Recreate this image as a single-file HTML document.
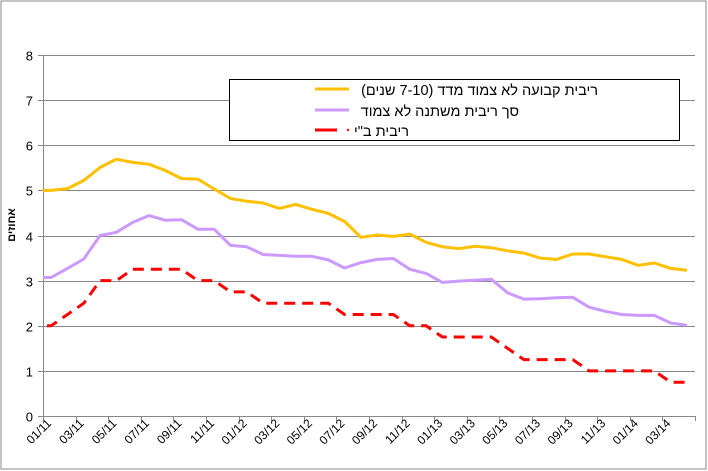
<!DOCTYPE html>
<html><head><meta charset="utf-8">
<style>
body{margin:0;background:#fff;}
svg{display:block;font-family:"Liberation Sans",Arial,sans-serif;}
</style></head>
<body>
<svg id="chart" width="708" height="471" viewBox="0 0 708 471">
<rect x="1" y="1" width="705" height="468" fill="#fff" stroke="#888" stroke-width="1"/>
<g id="grid"></g>
<g id="yaxis"></g>
<g id="xaxis"></g>
<text x="0" y="0" transform="translate(15 225) rotate(-90)" font-size="11" font-weight="bold" text-anchor="middle" font-family="'Liberation Sans','DejaVu Sans',sans-serif">אחוזים</text>
<g id="series"></g>
<g>
<rect x="229.5" y="79.5" width="450" height="61" fill="#fff" stroke="#000" stroke-width="1"/>
<line x1="315" y1="89" x2="349" y2="89" stroke="#FFC000" stroke-width="3"/>
<text x="598" y="95" font-size="14.5" text-anchor="start" direction="rtl" font-family="'Liberation Sans','DejaVu Sans',sans-serif">ריבית קבועה לא צמוד מדד (7-10 שנים)</text>
<line x1="315" y1="110" x2="349" y2="110" stroke="#CC99FF" stroke-width="3"/>
<text x="519" y="116" font-size="14.5" text-anchor="start" direction="rtl" font-family="'Liberation Sans','DejaVu Sans',sans-serif">סך ריבית משתנה לא צמוד</text>
<line x1="315" y1="130" x2="337" y2="130" stroke="#FF0000" stroke-width="3"/>
<circle cx="348" cy="130" r="1.2" fill="#FF0000"/>
<text x="409" y="136" font-size="14.5" text-anchor="start" direction="rtl" font-family="'Liberation Sans','DejaVu Sans',sans-serif">ריבית ב"י</text>
</g>
</svg>
<script>
const tickLabels = ["01/11","03/11","05/11","07/11","09/11","11/11","01/12","03/12","05/12","07/12","09/12","11/12","01/13","03/13","05/13","07/13","09/13","11/13","01/14","03/14"];
const yTicks = [0,1,2,3,4,5,6,7,8];
const fixedRate = [5.0,5.04,5.22,5.51,5.69,5.62,5.58,5.44,5.26,5.25,5.03,4.82,4.76,4.72,4.6,4.69,4.58,4.49,4.31,3.96,4.01,3.98,4.03,3.85,3.75,3.71,3.76,3.73,3.66,3.61,3.5,3.47,3.59,3.59,3.53,3.47,3.34,3.39,3.27,3.23];
const variableRate = [3.07,3.27,3.48,4.0,4.07,4.29,4.44,4.34,4.35,4.14,4.14,3.78,3.75,3.58,3.56,3.54,3.54,3.46,3.28,3.4,3.47,3.49,3.25,3.16,2.96,2.99,3.01,3.03,2.73,2.59,2.6,2.62,2.63,2.41,2.32,2.25,2.23,2.23,2.06,2.01];
const boiRate = [2.0,2.25,2.5,3.0,3.0,3.25,3.25,3.25,3.25,3.0,3.0,2.75,2.75,2.5,2.5,2.5,2.5,2.5,2.25,2.25,2.25,2.25,2.0,2.0,1.75,1.75,1.75,1.75,1.5,1.25,1.25,1.25,1.25,1.0,1.0,1.0,1.0,1.0,0.75,0.75];

const NS = "http://www.w3.org/2000/svg";
const X0 = 43, X1 = 695, Y0 = 416, Y8 = 55;
const nCat = fixedRate.length;
const catW = (X1 - X0) / nCat;
function xScale(i){ return X0 + catW * (i + 0.5); }
function yScale(v){ return Y0 - (v / 8) * (Y0 - Y8); }
function mk(tag, attrs, parent){ const e = document.createElementNS(NS, tag); for (const k in attrs) e.setAttribute(k, attrs[k]); parent.appendChild(e); return e; }

const grid = document.getElementById('grid');
const yax = document.getElementById('yaxis');
yTicks.forEach(t => {
  const y = Math.round(yScale(t)) + 0.5;
  if (t > 0) {
    const g = mk('line', {x1: X0, x2: X1, y1: y, y2: y, stroke: '#888', 'stroke-width': 1}, grid);
    
    
  }
  const tk = mk('line', {x1: X0 - 5, x2: X0, y1: y, y2: y, stroke: '#888'}, yax);
  
  
  const lb = mk('text', {x: 33, y: y + 5, 'font-size': 13, 'text-anchor': 'end', fill: '#000'}, yax);
  lb.textContent = t;
  
  
});
const ya = mk('line', {x1: X0 + 0.5, x2: X0 + 0.5, y1: Y8, y2: Y0 + 0.5, stroke: '#888'}, yax);



const xax = document.getElementById('xaxis');
const xa = mk('line', {x1: X0, x2: X1, y1: Y0 + 0.5, y2: Y0 + 0.5, stroke: '#888'}, xax);


for (let i = 0; i <= nCat; i += 2) {
  const x = Math.round(X0 + catW * i) + 0.5;
  const tk = mk('line', {x1: x, x2: x, y1: Y0, y2: Y0 + 5, stroke: '#888'}, xax);
  
  
}
tickLabels.forEach((lab, k) => {
  const x = X0 + catW * 2 * k + 9;
  const t = mk('text', {x: x, y: 424, 'font-size': 12, 'text-anchor': 'end', transform: `rotate(-45 ${x} 424)`}, xax);
  t.textContent = lab;
  
  
});

const ser = document.getElementById('series');
function pts(arr){ const p = [[X0, yScale(arr[0])]]; arr.forEach((v, i) => p.push([xScale(i), yScale(v)])); return p.map(q => q[0].toFixed(1) + ',' + q[1].toFixed(1)).join(' '); }
const s1 = mk('polyline', {points: pts(variableRate), fill: 'none', stroke: '#CC99FF', 'stroke-width': 3, 'stroke-linejoin': 'round'}, ser);


const s2 = mk('polyline', {points: pts(fixedRate), fill: 'none', stroke: '#FFC000', 'stroke-width': 3, 'stroke-linejoin': 'round'}, ser);


const s3 = mk('polyline', {points: pts(boiRate), fill: 'none', stroke: '#FF0000', 'stroke-width': 3, 'stroke-dasharray': '11,7', 'stroke-dashoffset': '-4'}, ser);


</script>
</body></html>
